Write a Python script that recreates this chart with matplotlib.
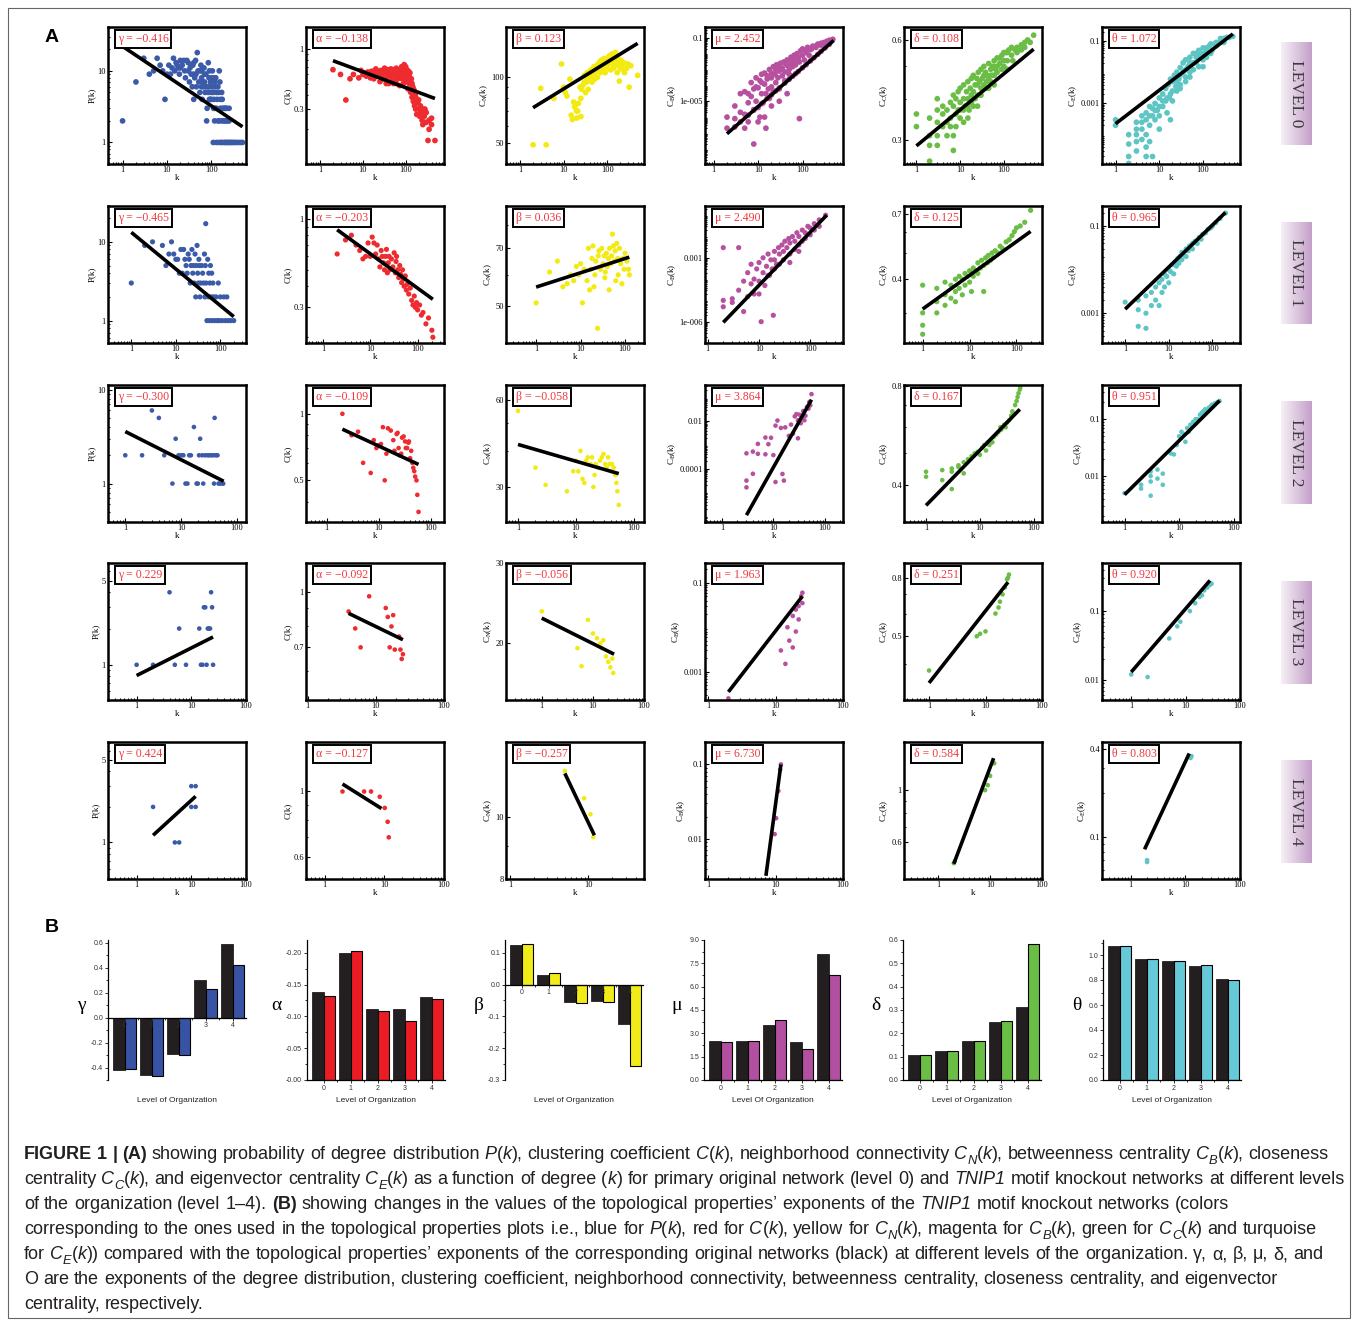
import numpy as np
import matplotlib
matplotlib.use("Agg")
import matplotlib.pyplot as plt
from matplotlib import font_manager
from matplotlib.colors import LinearSegmentedColormap
from matplotlib.patches import Rectangle
from matplotlib.ticker import (FixedLocator, FixedFormatter, LogLocator,
                               NullFormatter, MultipleLocator)

W, H = 1357, 1321
SERIF = 'Liberation Serif'
SANS = 'Liberation Sans'
plt.rcParams['font.family'] = SERIF
plt.rcParams['mathtext.default'] = 'regular'

# ---- panel A: (k, value) pairs per level ----
deg_pts = [
    [(1, 2), (2, 7), (3, 15), (4, 9), (5, 10), (6, 15), (7, 12), (8, 10), (9, 4), (10, 9), (11, 12), (12, 9),
     (13, 11), (14, 15), (15, 10), (16, 13), (17, 12), (18, 11), (19, 9), (20, 14), (22, 12), (24, 14), (25, 10),
     (26, 8), (28, 14), (30, 13), (32, 7), (33, 11), (35, 9), (37, 6), (38, 12), (40, 4), (42, 8), (44, 14),
     (46, 6), (48, 18), (50, 10), (52, 7), (55, 5), (58, 12), (60, 8), (62, 4), (65, 6), (68, 11), (70, 7),
     (72, 5), (75, 9), (78, 2), (80, 3), (82, 6), (85, 13), (88, 8), (90, 4), (95, 7), (100, 5), (105, 10),
     (110, 1), (112, 3), (115, 4), (118, 2), (120, 6), (125, 8), (130, 3), (135, 4), (140, 2), (145, 5),
     (150, 10), (155, 7), (160, 3), (165, 1), (170, 2), (175, 4), (180, 1), (190, 3), (200, 2), (210, 1),
     (220, 3), (230, 2), (240, 1), (250, 2), (260, 1), (280, 1), (300, 1), (330, 1), (360, 1), (400, 1),
     (450, 1), (500, 1), (130, 1), (150, 1), (200, 1), (230, 1), (150, 2), (190, 2), (210, 3), (250, 3),
     (100, 4), (120, 3), (60, 6), (90, 6), (120, 7), (45, 9), (70, 9), (100, 8), (30, 10), (60, 10), (20, 11),
     (40, 13), (35, 12), (40, 9), (55, 10), (65, 7), (75, 6), (85, 5), (95, 4), (105, 6), (110, 5), (130, 5),
     (160, 4), (180, 3), (200, 3), (220, 2), (170, 5), (140, 6), (115, 8), (90, 10)],
    [(1, 3), (2, 9), (3, 10), (5, 9), (6, 5), (7, 7), (8, 10), (9, 7), (10, 6), (11, 6), (12, 4), (13, 8),
     (14, 4), (15, 8), (16, 6), (17, 5), (18, 4), (19, 7), (20, 6), (21, 3), (22, 5), (23, 8), (24, 4), (25, 5),
     (26, 3), (27, 7), (28, 2), (29, 5), (30, 9), (31, 4), (32, 3), (33, 6), (34, 5), (35, 2), (36, 3), (38, 5),
     (40, 4), (42, 3), (44, 7), (45, 2), (46, 5), (47, 17), (48, 3), (50, 1), (52, 6), (54, 2), (55, 4),
     (57, 1), (58, 3), (60, 5), (62, 2), (64, 4), (66, 1), (68, 3), (70, 2), (75, 1), (80, 2), (85, 1),
     (90, 3), (95, 1), (100, 2), (110, 1), (120, 2), (130, 1), (140, 2), (150, 1), (170, 1), (200, 1)],
    [(1, 2), (2, 2), (3, 6), (4, 5), (5, 2), (7, 1), (8, 3), (9, 2), (10, 2), (11, 2), (12, 1), (13, 1),
     (14, 2), (15, 2), (17, 4), (19, 1), (20, 1), (21, 2), (22, 3), (24, 2), (25, 1), (27, 2), (30, 2),
     (32, 2), (35, 2), (38, 2), (39, 1), (40, 5), (42, 2), (45, 2), (47, 1), (50, 1), (55, 1), (57, 1)],
    [(1, 1), (2, 1), (4, 4), (5, 1), (6, 2), (8, 1), (14, 2), (15, 1), (16, 1), (17, 3), (18, 3), (19, 1),
     (20, 2), (21, 2), (22, 2), (23, 4), (24, 3), (25, 1)],
    [(2, 2), (5, 1), (6, 1), (10, 3), (12, 3), (10, 2), (12, 2)],
]

clu_pts = [
    [(2, 0.66), (3, 0.6), (4, 0.36), (5, 0.55), (6, 0.6), (8, 0.56), (9, 0.65), (10, 0.6), (11, 0.62),
     (12, 0.58), (13, 0.63), (14, 0.6), (15, 0.56), (16, 0.64), (17, 0.6), (18, 0.55), (19, 0.62), (20, 0.67),
     (22, 0.58), (24, 0.62), (25, 0.52), (26, 0.65), (28, 0.6), (30, 0.55), (32, 0.68), (34, 0.56), (35, 0.5),
     (36, 0.62), (38, 0.66), (40, 0.58), (42, 0.6), (44, 0.52), (45, 0.67), (48, 0.57), (50, 0.62), (52, 0.5),
     (55, 0.65), (58, 0.54), (60, 0.6), (62, 0.66), (65, 0.55), (68, 0.62), (70, 0.58), (72, 0.48),
     (75, 0.64), (78, 0.6), (80, 0.7), (82, 0.55), (85, 0.66), (88, 0.5), (90, 0.62), (92, 0.73), (95, 0.56),
     (98, 0.68), (100, 0.6), (105, 0.52), (110, 0.65), (112, 0.45), (115, 0.58), (120, 0.5), (125, 0.62),
     (130, 0.42), (135, 0.55), (140, 0.38), (145, 0.47), (150, 0.35), (155, 0.44), (160, 0.32), (165, 0.4),
     (170, 0.3), (175, 0.37), (180, 0.27), (190, 0.34), (200, 0.3), (210, 0.26), (220, 0.32), (230, 0.28),
     (240, 0.24), (250, 0.3), (270, 0.26), (300, 0.23), (330, 0.16), (350, 0.24), (400, 0.25), (480, 0.16),
     (30, 0.63), (40, 0.65), (50, 0.66), (60, 0.68), (70, 0.65), (80, 0.62), (85, 0.6), (90, 0.68), (95, 0.64),
     (100, 0.7), (105, 0.6), (110, 0.55), (115, 0.64), (120, 0.58), (130, 0.52), (140, 0.5), (150, 0.45),
     (160, 0.42), (170, 0.38), (180, 0.35), (200, 0.36), (220, 0.27), (250, 0.22), (280, 0.3), (300, 0.28),
     (350, 0.2), (400, 0.22), (40, 0.5), (60, 0.5), (25, 0.58)],
    [(2, 0.62), (3, 0.75), (4, 0.8), (5, 0.7), (6, 0.65), (7, 0.58), (8, 0.6), (9, 0.72), (10, 0.6),
     (11, 0.78), (12, 0.72), (13, 0.62), (14, 0.7), (15, 0.58), (16, 0.52), (17, 0.65), (18, 0.6), (19, 0.55),
     (20, 0.5), (21, 0.6), (22, 0.66), (23, 0.48), (24, 0.55), (25, 0.6), (26, 0.5), (28, 0.58), (30, 0.52),
     (32, 0.63), (34, 0.48), (35, 0.56), (36, 0.6), (38, 0.5), (40, 0.45), (42, 0.53), (44, 0.47), (46, 0.42),
     (48, 0.5), (50, 0.44), (52, 0.4), (55, 0.46), (58, 0.38), (60, 0.41), (65, 0.36), (70, 0.39), (75, 0.33),
     (80, 0.31), (85, 0.35), (90, 0.3), (95, 0.32), (100, 0.29), (110, 0.31), (120, 0.27), (130, 0.28),
     (150, 0.24), (170, 0.26), (200, 0.22), (210, 0.2)],
    [(2, 1.0), (3, 0.8), (4, 0.83), (5, 0.6), (7, 0.54), (8, 0.76), (9, 0.7), (10, 0.72), (11, 0.73),
     (12, 0.87), (13, 0.5), (14, 0.66), (15, 0.86), (17, 0.84), (19, 0.76), (20, 0.68), (22, 0.81), (23, 0.82),
     (24, 0.7), (25, 0.65), (27, 0.66), (28, 0.78), (30, 0.79), (32, 0.75), (33, 0.7), (35, 0.7), (37, 0.74),
     (38, 0.75), (40, 0.63), (42, 0.68), (44, 0.6), (46, 0.57), (48, 0.55), (50, 0.52), (53, 0.5), (55, 0.43),
     (58, 0.36)],
    [(4, 0.88), (5, 0.79), (6, 0.7), (8, 0.97), (14, 0.9), (15, 0.85), (16, 0.7), (17, 0.8), (18, 0.86),
     (19, 0.69), (22, 0.75), (23, 0.69), (24, 0.65), (25, 0.67)],
    [(2, 1.0), (4.6, 1.0), (6, 1.0), (8.4, 0.96), (10.2, 0.88), (11.4, 0.79), (11.9, 0.70)],
]

nbr_pts = [
    [(2, 49), (4, 49), (3, 89), (6, 80), (9, 115), (10, 90), (11, 85), (12, 82), (14, 98), (15, 67), (16, 64),
     (17, 77), (18, 73), (19, 75), (20, 65), (21, 70), (22, 76), (24, 90), (25, 66), (26, 88), (28, 92),
     (30, 102), (32, 85), (34, 95), (35, 105), (37, 88), (40, 100), (42, 108), (45, 95), (48, 110), (50, 104),
     (52, 98), (55, 112), (58, 107), (60, 100), (62, 115), (65, 110), (68, 118), (70, 105), (72, 112),
     (75, 120), (78, 108), (80, 115), (85, 122), (88, 112), (90, 118), (95, 110), (100, 120), (105, 115),
     (110, 125), (115, 118), (120, 108), (125, 122), (130, 128), (135, 115), (140, 120), (145, 126),
     (150, 112), (155, 130), (160, 118), (165, 124), (170, 105), (175, 120), (180, 115), (190, 96), (200, 120),
     (210, 112), (220, 118), (230, 108), (250, 116), (280, 110), (320, 90), (350, 113), (500, 102),
     (60, 110), (80, 120), (100, 112), (120, 125), (140, 110), (160, 124), (180, 120), (200, 110), (250, 105),
     (300, 115), (150, 127), (130, 115), (110, 118), (90, 105), (70, 115), (50, 112), (45, 102), (35, 98),
     (30, 95), (25, 80), (20, 70)],
    [(1, 51), (2, 61), (3, 65), (4, 56), (5, 57), (6, 60), (7, 58), (8, 63), (9, 60), (10, 64), (11, 51),
     (12, 62), (14, 58), (15, 70), (16, 55), (17, 62), (18, 66), (19, 71), (20, 56), (21, 60), (22, 65),
     (24, 44), (25, 67), (26, 69), (28, 62), (30, 70), (32, 64), (34, 67), (35, 59), (36, 61), (38, 68),
     (40, 63), (42, 66), (44, 55), (45, 70), (48, 64), (50, 67), (52, 76), (55, 71), (58, 65), (60, 69),
     (62, 58), (65, 72), (68, 66), (70, 60), (75, 70), (80, 64), (85, 57), (90, 66), (95, 62), (100, 68),
     (110, 65), (120, 62), (125, 60)],
    [(1, 55), (2, 35), (3, 30.5), (7, 29), (9, 34), (10, 37), (11, 34), (12, 40), (13, 32), (14, 31), (15, 37),
     (16, 38), (18, 36), (19, 38), (20, 30), (21, 33), (22, 36), (24, 35), (26, 37), (28, 38), (30, 39),
     (32, 36), (34, 35), (36, 38), (38, 36), (40, 34), (42, 36), (45, 35), (48, 33), (50, 31), (52, 29),
     (55, 26)],
    [(1, 23.5), (5, 19.5), (6, 17.8), (8, 22.5), (10, 21), (12, 20.5), (14, 20), (15, 19.5), (16, 20.3),
     (18, 18.7), (20, 18.2), (22, 17.7), (24, 18.5), (25, 17.2)],
    [(5, 11.8), (8.8, 10.7), (10.6, 10.1), (11.5, 9.3)],
]

btw_pts = [
    [(2, 1e-6), (2, 2e-7), (3, 5e-6), (3, 8e-7), (4, 3e-5), (4, 2e-6), (5, 1.5e-6), (5, 4e-5), (6, 5e-7),
     (6, 8e-6), (7, 2e-5), (7, 1.5e-4), (8, 3e-6), (8, 6e-5), (8, 2e-8), (9, 1e-5), (9, 3e-4), (10, 4e-6),
     (10, 7e-5), (11, 2e-4), (11, 1e-6), (12, 3e-5), (12, 5e-4), (13, 8e-6), (14, 1.2e-4), (14, 6e-4),
     (15, 3e-5), (15, 2e-7), (16, 2.5e-4), (17, 6e-5), (18, 1e-3), (18, 1.5e-5), (20, 3e-4), (20, 8e-5),
     (22, 1.5e-3), (22, 4e-5), (24, 5e-4), (25, 1.5e-4), (26, 2e-3), (28, 3e-4), (30, 8e-4), (30, 6e-5),
     (32, 2.5e-3), (35, 4e-4), (35, 1.2e-3), (38, 3e-3), (40, 7e-4), (40, 2e-4), (45, 1.8e-3), (45, 4e-3),
     (50, 1e-3), (50, 5e-4), (55, 6e-3), (55, 2.5e-3), (60, 1.5e-3), (65, 8e-3), (65, 3.5e-3), (70, 2e-3),
     (75, 1e-2), (80, 5e-3), (85, 8e-7), (85, 3e-3), (90, 1.5e-2), (100, 8e-3), (100, 2e-2), (110, 4e-3),
     (120, 1.2e-2), (130, 2.5e-2), (140, 8e-3), (150, 1.8e-2), (170, 3e-2), (200, 2.5e-2), (220, 4e-2),
     (250, 3.5e-2), (300, 5e-2), (350, 6e-2), (400, 7e-2), (480, 8e-2),
     (3, 2.4e-7), (4, 5e-7), (6, 1.3e-6), (8, 2.7e-6), (12, 7e-6), (16, 1.5e-5), (20, 2.5e-5), (25, 4.5e-5),
     (30, 7e-5), (40, 1.4e-4), (50, 2.4e-4), (60, 3.8e-4), (70, 5.5e-4), (80, 7.5e-4), (100, 1.3e-3),
     (120, 2e-3), (150, 3.5e-3), (180, 5.5e-3), (220, 9e-3), (260, 1.4e-2), (320, 2.3e-2), (400, 3.9e-2),
     (6, 3e-5), (9, 8e-5), (12, 1.5e-4), (16, 4e-4), (20, 6e-4), (25, 1e-3), (30, 1.5e-3), (40, 2.5e-3),
     (60, 4e-3), (80, 6e-3), (120, 1.6e-2), (160, 2e-2), (200, 3e-2), (260, 4.5e-2), (300, 3e-2), (380, 5e-2),
     (450, 7e-2), (5, 2e-7), (10, 5e-7), (14, 1e-6), (20, 5e-6), (30, 1e-5), (45, 3e-5)],
    [(2, 3e-3), (2, 5e-6), (2, 1e-5), (3, 8e-6), (3, 1.2e-5), (4, 3e-3), (4, 3e-5), (5, 8e-5), (5, 3e-6),
     (6, 2e-4), (6, 1.5e-5), (7, 5e-4), (7, 6e-5), (8, 1e-4), (8, 2e-5), (9, 3e-4), (10, 8e-5), (10, 6e-4),
     (11, 1e-6), (12, 2e-4), (12, 1e-3), (13, 5e-5), (14, 4e-4), (15, 1.5e-3), (16, 1.5e-4), (17, 8e-4),
     (18, 3e-4), (19, 2e-6), (20, 2e-3), (20, 8e-4), (22, 5e-4), (24, 3e-3), (25, 1.5e-3), (28, 4e-3),
     (30, 2e-3), (32, 6e-3), (35, 3e-3), (38, 8e-3), (40, 5e-3), (45, 1e-2), (50, 6e-3), (55, 1.5e-2),
     (60, 1e-2), (70, 2e-2), (80, 1.5e-2), (90, 3e-2), (100, 2.5e-2), (120, 4e-2), (150, 6e-2), (200, 0.1),
     (30, 8e-4), (40, 1.5e-3), (50, 2.5e-3), (60, 4e-3), (70, 6e-3), (80, 8e-3), (100, 1.2e-2), (120, 2e-2),
     (150, 3e-2), (40, 6e-4), (60, 2e-3), (25, 5e-4), (20, 3e-4), (15, 1.5e-4), (10, 2e-5)],
    [(3, 3.1e-5), (3, 1.6e-5), (3, 4.4e-4), (4, 5.2e-4), (4, 6e-5), (5, 1.1e-3), (5, 4.2e-4), (7, 2.05e-3),
     (7, 4e-4), (8, 1.07e-3), (9, 2e-3), (10, 3.7e-4), (11, 6.5e-3), (11, 2.7e-5), (12, 1.07e-2), (14, 5.2e-3),
     (15, 5.9e-5), (16, 3.1e-5), (17, 5.5e-3), (20, 2.4e-3), (22, 7.2e-3), (24, 3e-3), (26, 1.6e-2),
     (28, 2e-2), (30, 1.1e-2), (30, 1.9e-3), (32, 1.9e-2), (34, 8.2e-3), (36, 1.5e-2), (38, 2.7e-2),
     (40, 1.1e-2), (42, 1.7e-2), (45, 4e-2), (48, 3.4e-2), (50, 6.5e-2), (52, 4.7e-2), (55, 1.4e-1)],
    [(2, 2.5e-4), (5, 2e-4), (12, 3e-3), (14, 1.5e-3), (15, 1e-2), (16, 5e-3), (18, 3.5e-3), (18, 1.8e-2),
     (20, 2.5e-2), (20, 8e-3), (22, 3e-2), (22, 1.5e-2), (24, 5e-2), (25, 6e-2), (25, 3.5e-2)],
    [(9.7, 0.0116), (10.2, 0.019), (11, 0.044), (11.7, 0.085), (12, 0.1)],
]

clo_pts = [
    [(1, 0.36), (1, 0.33), (2, 0.35), (2, 0.29), (2, 0.26), (3, 0.4), (3, 0.37), (3, 0.34), (3, 0.29),
     (4, 0.38), (4, 0.36), (5, 0.37), (5, 0.34), (6, 0.39), (6, 0.35), (7, 0.41), (7, 0.38), (7, 0.28),
     (8, 0.4), (8, 0.33), (9, 0.42), (9, 0.37), (10, 0.43), (10, 0.39), (10, 0.35), (12, 0.44), (12, 0.4),
     (13, 0.38), (14, 0.42), (15, 0.45), (15, 0.4), (16, 0.37), (17, 0.43), (18, 0.46), (18, 0.41), (20, 0.47),
     (20, 0.42), (20, 0.38), (22, 0.44), (24, 0.46), (25, 0.41), (26, 0.48), (28, 0.45), (30, 0.49),
     (30, 0.43), (32, 0.46), (35, 0.5), (35, 0.44), (38, 0.48), (40, 0.47), (40, 0.43), (45, 0.51), (45, 0.46),
     (50, 0.49), (50, 0.45), (55, 0.5), (60, 0.52), (60, 0.47), (65, 0.49), (70, 0.53), (70, 0.48), (80, 0.51),
     (90, 0.54), (90, 0.49), (100, 0.52), (110, 0.55), (120, 0.52), (130, 0.56), (150, 0.54), (180, 0.56),
     (200, 0.55), (250, 0.58), (300, 0.57), (350, 0.6), (400, 0.59), (480, 0.62),
     (2, 0.31), (3, 0.31), (4, 0.33), (5, 0.31), (6, 0.33), (8, 0.36), (10, 0.37), (12, 0.37), (15, 0.38),
     (18, 0.39), (22, 0.4), (25, 0.44), (30, 0.41), (35, 0.47), (40, 0.45), (50, 0.47), (55, 0.47), (60, 0.5),
     (70, 0.5), (80, 0.53), (100, 0.5), (100, 0.55), (120, 0.55), (150, 0.57), (200, 0.57), (250, 0.56),
     (300, 0.59), (120, 0.49), (160, 0.52), (60, 0.44), (45, 0.43), (25, 0.38), (12, 0.34), (15, 0.35),
     (7, 0.31)],
    [(1, 0.38), (1, 0.3), (1, 0.27), (1, 0.25), (2, 0.37), (2, 0.33), (2, 0.3), (3, 0.39), (3, 0.35),
     (3, 0.32), (4, 0.38), (4, 0.34), (5, 0.4), (5, 0.36), (5, 0.33), (6, 0.41), (6, 0.37), (7, 0.4), (7, 0.35),
     (8, 0.42), (8, 0.38), (9, 0.41), (10, 0.43), (10, 0.39), (11, 0.36), (12, 0.44), (12, 0.41), (14, 0.43),
     (15, 0.46), (15, 0.42), (17, 0.44), (18, 0.47), (20, 0.45), (20, 0.36), (22, 0.48), (24, 0.46),
     (25, 0.49), (28, 0.47), (30, 0.5), (32, 0.48), (35, 0.51), (40, 0.5), (45, 0.53), (50, 0.52), (60, 0.55),
     (70, 0.56), (80, 0.58), (90, 0.6), (100, 0.62), (120, 0.63), (150, 0.65), (200, 0.72)],
    [(1, 0.44), (1, 0.425), (2, 0.445), (2, 0.415), (3, 0.45), (3, 0.44), (3, 0.39), (4, 0.46), (4, 0.455),
     (5, 0.47), (5, 0.435), (6, 0.48), (7, 0.49), (8, 0.5), (9, 0.505), (10, 0.495), (11, 0.52), (12, 0.53),
     (13, 0.51), (14, 0.54), (15, 0.53), (16, 0.55), (17, 0.54), (18, 0.56), (20, 0.57), (22, 0.58),
     (24, 0.6), (25, 0.59), (28, 0.61), (30, 0.6), (32, 0.62), (35, 0.63), (38, 0.65), (40, 0.67), (42, 0.66),
     (45, 0.7), (48, 0.72), (50, 0.74), (52, 0.76), (55, 0.78), (56, 0.79)],
    [(1, 0.38), (7, 0.5), (8, 0.51), (10, 0.52), (15, 0.6), (17, 0.63), (18, 0.66), (20, 0.7), (22, 0.74),
     (24, 0.79), (25, 0.8), (26, 0.82)],
    [(2, 0.49), (2.1, 0.5), (8, 1.0), (9, 1.05), (10, 1.15), (12, 1.3)],
]

eig_pts = [
    [(1, 3e-4), (1, 2e-4), (2, 1e-4), (2, 5e-5), (2, 2e-5), (2, 1.2e-5), (3, 2.5e-4), (3, 1e-4), (3, 6e-5),
     (3, 3e-5), (4, 4e-4), (4, 1.5e-4), (4, 7e-5), (5, 1e-4), (5, 5e-4), (5, 4e-5), (6, 8e-4), (6, 2e-4),
     (6, 6e-5), (7, 4e-4), (7, 2e-5), (8, 1e-3), (8, 3e-4), (9, 6e-4), (10, 1.5e-3), (10, 4e-4), (10, 1.5e-4),
     (12, 2e-3), (12, 8e-4), (14, 1.2e-3), (14, 3e-3), (15, 5e-4), (16, 4e-3), (17, 1.5e-3), (18, 3e-4),
     (18, 6e-3), (20, 2.5e-3), (20, 5e-3), (22, 8e-3), (24, 3.5e-3), (25, 1e-2), (28, 6e-3), (30, 1.4e-2),
     (30, 4e-3), (35, 1e-2), (35, 2e-2), (40, 7e-3), (40, 2.5e-2), (45, 1.5e-2), (50, 3e-2), (50, 1e-2),
     (60, 2e-2), (60, 4e-2), (70, 3e-2), (80, 5e-2), (80, 1.5e-2), (90, 3.5e-2), (100, 6e-2), (100, 2.5e-2),
     (120, 4.5e-2), (140, 7e-2), (160, 5e-2), (180, 8e-2), (200, 9e-2), (250, 0.1), (300, 0.12), (400, 0.13),
     (480, 0.14),
     (8, 6e-4), (10, 8e-4), (12, 1.2e-3), (15, 1.5e-3), (18, 2e-3), (20, 1.2e-3), (25, 5e-3), (25, 2.5e-3),
     (30, 8e-3), (30, 3e-3), (40, 1.2e-2), (40, 5e-3), (50, 2e-2), (50, 7e-3), (60, 1.2e-2), (70, 4e-2),
     (70, 2e-2), (80, 3e-2), (100, 4e-2), (100, 1.5e-2), (120, 6e-2), (120, 3e-2), (150, 8e-2), (150, 4e-2),
     (200, 7e-2), (250, 0.12), (300, 0.09), (350, 0.13), (3, 1.5e-4), (4, 2.5e-4), (5, 3e-4), (6, 4e-4),
     (7, 7e-4), (5, 2e-5)],
    [(1, 1.8e-3), (2, 5e-4), (2, 1.2e-3), (2, 2e-3), (3, 4.5e-4), (3, 1e-3), (3, 2.5e-3), (4, 1.5e-3),
     (4, 3e-3), (5, 2e-3), (5, 4e-3), (6, 1.5e-3), (6, 5e-3), (7, 3e-3), (7, 6e-3), (8, 4e-3), (8, 8e-3),
     (9, 7e-3), (10, 5e-3), (10, 1e-2), (11, 9e-3), (12, 1.3e-2), (13, 8e-3), (14, 1.5e-2), (15, 1.2e-2),
     (16, 1.8e-2), (17, 1.4e-2), (18, 2e-2), (20, 1.7e-2), (20, 2.5e-2), (22, 2.2e-2), (25, 3e-2), (25, 2e-2),
     (28, 2.7e-2), (30, 3.5e-2), (35, 3e-2), (35, 4e-2), (40, 4.5e-2), (45, 4e-2), (50, 5.5e-2), (55, 5e-2),
     (60, 6.5e-2), (70, 7e-2), (80, 8.5e-2), (90, 9e-2), (100, 0.1), (120, 0.12), (150, 0.15), (200, 0.2)],
    [(1, 5e-3), (2, 7e-3), (2, 6e-3), (3, 1.2e-2), (3, 1e-2), (3, 8e-3), (3, 4.5e-3), (4, 1.3e-2), (4, 9e-3),
     (5, 1.1e-2), (5, 7e-3), (7, 2.5e-2), (8, 2.4e-2), (9, 3.5e-2), (10, 5e-2), (11, 6e-2), (12, 5.5e-2),
     (13, 4e-2), (14, 7e-2), (15, 6e-2), (16, 8e-2), (18, 9e-2), (20, 0.1), (22, 0.1), (24, 0.12), (26, 0.13),
     (28, 0.14), (30, 0.15), (32, 0.14), (35, 0.16), (38, 0.17), (40, 0.18), (45, 0.19), (50, 0.2), (55, 0.21)],
    [(1, 0.012), (2, 0.011), (5, 0.04), (7, 0.06), (8, 0.07), (12, 0.1), (15, 0.13), (18, 0.16), (20, 0.17),
     (22, 0.2), (25, 0.22), (28, 0.24), (30, 0.25)],
    [(2, 0.07), (2, 0.068), (12.5, 0.35), (13, 0.36)],
]

# fitted exponents shown in the boxes (level 0..4)
gamma_vals = [-0.416, -0.465, -0.300, 0.229, 0.424]
alpha_vals = [-0.138, -0.203, -0.109, -0.092, -0.127]
beta_vals = [0.123, 0.036, -0.058, -0.056, -0.257]
mu_vals = [2.452, 2.490, 3.864, 1.963, 6.730]
delta_vals = [0.108, 0.125, 0.167, 0.251, 0.584]
theta_vals = [1.072, 0.965, 0.951, 0.920, 0.803]

# fit line start point (k0, y0) and end k, per property per level
deg_fit = [(1, 22, 500), (1, 13.2, 200), (1, 3.58, 58), (1, 0.814, 25), (2, 1.15, 12)]
clu_fit = [(2, 0.79, 480), (2, 0.862, 210), (2, 0.852, 58), (4, 0.87, 25), (2, 1.06, 9)]
nbr_fit = [(2, 72.5, 500), (1, 55.9, 125), (1, 42.1, 55), (1, 22.7, 26), (5, 11.7, 11.9)]
btw_fit = [(2, 8.9e-8, 500), (2, 9.3e-7, 210), (3, 1.07e-6, 55), (2, 3.5e-4, 25), (7.2, 3.2e-3, 12)]
clo_fit = [(1, 0.289, 480), (1, 0.31, 200), (1, 0.348, 55), (1, 0.344, 25), (2, 0.487, 11.7)]
eig_fit = [(1, 2.24e-4, 480), (1, 1.24e-3, 200), (1, 4.7e-3, 55), (1, 0.013, 28), (1.8, 0.083, 11.8)]

# axis ranges and y ticks per [level][property]
x_lims = [
    [(0.47, 600), (0.47, 780), (0.48, 700), (0.64, 813), (0.52, 745), (0.49, 700)],
    [(0.3, 377), (0.44, 361), (0.21, 267), (0.88, 437), (0.40, 350), (0.295, 430)],
    [(0.49, 146), (0.40, 179), (0.62, 150), (0.47, 225), (0.39, 142), (0.385, 130)],
    [(0.3, 100), (0.95, 100), (0.2, 100), (0.9, 100), (0.36, 100), (0.29, 100)],
    [(0.3, 100), (0.49, 100), (0.89, 51), (0.9, 100), (0.22, 100), (0.3, 100)],
]
y_lims = [
    [(0.5, 41), (0.1, 1.55), (40, 170), (1.1e-9, 0.48), (0.255, 0.656), (1.15e-5, 0.28)],
    [(0.52, 28.5), (0.185, 1.19), (40.4, 89.5), (1e-7, 0.27), (0.232, 0.747), (2.07e-4, 0.29)],
    [(0.39, 11.2), (0.324, 1.35), (22.7, 67.6), (5.5e-7, 0.34), (0.31, 0.805), (1.55e-3, 0.4)],
    [(0.51, 7.0), (0.5, 1.2), (15, 30), (2.3e-4, 0.28), (0.30, 0.9), (5.1e-3, 0.5)],
    [(0.49, 7.1), (0.506, 1.47), (8, 13.1), (2.9e-3, 0.2), (0.42, 1.6), (0.052, 0.45)],
]
y_ticks = [
    [([1, 10], ['1', '10']), ([0.3, 1], ['0.3', '1']), ([50, 100], ['50', '100']),
     ([1e-5, 0.1], ['1e-005', '0.1']), ([0.3, 0.6], ['0.3', '0.6']), ([0.001, 0.1], ['0.001', '0.1'])],
    [([1, 10], ['1', '10']), ([0.3, 1], ['0.3', '1']), ([50, 70], ['50', '70']),
     ([1e-6, 0.001], ['1e-006', '0.001']), ([0.4, 0.7], ['0.4', '0.7']), ([0.001, 0.1], ['0.001', '0.1'])],
    [([1, 10], ['1', '10']), ([0.5, 1], ['0.5', '1']), ([30, 60], ['30', '60']),
     ([1e-4, 0.01], ['0.0001', '0.01']), ([0.4, 0.8], ['0.4', '0.8']), ([0.01, 0.1], ['0.01', '0.1'])],
    [([1, 5], ['1', '5']), ([0.7, 1], ['0.7', '1']), ([20, 30], ['20', '30']),
     ([0.001, 0.1], ['0.001', '0.1']), ([0.5, 0.8], ['0.5', '0.8']), ([0.01, 0.1], ['0.01', '0.1'])],
    [([1, 5], ['1', '5']), ([0.6, 1], ['0.6', '1']), ([8, 10], ['8', '10']),
     ([0.01, 0.1], ['0.01', '0.1']), ([0.6, 1], ['0.6', '1']), ([0.1, 0.4], ['0.1', '0.4'])],
]

prop_pts = [deg_pts, clu_pts, nbr_pts, btw_pts, clo_pts, eig_pts]
prop_fit = [deg_fit, clu_fit, nbr_fit, btw_fit, clo_fit, eig_fit]
prop_exp = [gamma_vals, alpha_vals, beta_vals, mu_vals, delta_vals, theta_vals]
greek = ['γ', 'α', 'β', 'μ', 'δ', 'θ']
y_names = ['P(k)', 'C(k)', r'C$_{N}$(k)', r'C$_{B}$(k)', r'C$_{C}$(k)', r'C$_{E}$(k)']
level_names = ['LEVEL 0', 'LEVEL 1', 'LEVEL 2', 'LEVEL 3', 'LEVEL 4']
pt_colors = ['#3b5ba9', '#ee2b2f', '#f3ea12', '#b6509f', '#6bbd46', '#5ec5c5']

# ---- panel B: exponents of the original (black) and knockout networks ----
levels = [0, 1, 2, 3, 4]
orig_gamma = [-0.418, -0.462, -0.292, 0.300, 0.585]
ko_gamma = [-0.408, -0.465, -0.300, 0.229, 0.424]
orig_alpha = [-0.139, -0.199, -0.111, -0.111, -0.131]
ko_alpha = [-0.132, -0.203, -0.109, -0.092, -0.127]
orig_beta = [0.124, 0.029, -0.055, -0.052, -0.125]
ko_beta = [0.129, 0.036, -0.058, -0.056, -0.257]
orig_mu = [2.48, 2.52, 3.56, 2.43, 8.1]
ko_mu = [2.452, 2.490, 3.864, 1.963, 6.730]
orig_delta = [0.108, 0.125, 0.167, 0.250, 0.313]
ko_delta = [0.108, 0.125, 0.167, 0.251, 0.584]
orig_theta = [1.073, 0.965, 0.951, 0.915, 0.805]
ko_theta = [1.072, 0.965, 0.951, 0.920, 0.803]
bar_colors = ['#3853a4', '#ec1c24', '#f2eb1a', '#b34fa0', '#6abd45', '#66c9d8']
x_titles = ['Level of Organization'] * 3 + ['Level Of Organization'] + ['Level of Organization'] * 2

caption = [
    "^FIGURE 1 | (A)^ showing probability of degree distribution *P*(*k*), clustering coefficient *C*(*k*), "
    "neighborhood connectivity *C*_N(*k*), betweenness centrality *C*_B(*k*), closeness",
    "centrality *C*_C(*k*), and eigenvector centrality *C*_E(*k*) as a function of degree (*k*) for primary "
    "original network (level 0) and *TNIP1* motif knockout networks at different levels",
    "of the organization (level 1–4). ^(B)^ showing changes in the values of the topological properties’ "
    "exponents of the *TNIP1* motif knockout networks (colors",
    "corresponding to the ones used in the topological properties plots i.e., blue for *P*(*k*), red for "
    "*C*(*k*), yellow for *C*_N(*k*), magenta for *C*_B(*k*), green for *C*_C(*k*) and turquoise",
    "for *C*_E(*k*)) compared with the topological properties’ exponents of the corresponding original "
    "networks (black) at different levels of the organization. γ, α, β, μ, δ, and",
    "O are the exponents of the degree distribution, clustering coefficient, neighborhood connectivity, "
    "betweenness centrality, closeness centrality, and eigenvector",
    "centrality, respectively.",
]

fig = plt.figure(figsize=(W / 100, H / 100), dpi=100)


def px_axes(left, top, width, height):
    return fig.add_axes([left / W, 1 - (top + height) / H, width / W, height / H])


def fmt_exp(v):
    s = f"{abs(v):.3f}"
    return ('\u2212' + s) if v < 0 else s


col_left = [108, 306, 506, 705, 904, 1102]
row_top = [27, 206, 385, 563, 742]
dot_size = [17, 14, 11, 11, 11]

for r in range(5):
    for c in range(6):
        ax = px_axes(col_left[c], row_top[r], 138, 137)
        ax.set_xscale('log')
        ax.set_yscale('log')
        pts = np.array(prop_pts[c][r], dtype=float)
        ax.scatter(pts[:, 0], pts[:, 1], s=dot_size[r], color=pt_colors[c],
                   edgecolors='none', zorder=2)
        k0, y0, k1 = prop_fit[c][r]
        slope = prop_exp[c][r]
        ax.plot([k0, k1], [y0, y0 * (k1 / k0) ** slope], color='black', lw=2.6,
                solid_capstyle='butt', zorder=3)
        ax.set_xlim(*x_lims[r][c])
        ax.set_ylim(*y_lims[r][c])
        xt = [t for t in (1, 10, 100) if x_lims[r][c][0] * 0.99 <= t <= x_lims[r][c][1] * 1.01]
        ax.xaxis.set_major_locator(FixedLocator(xt))
        ax.xaxis.set_major_formatter(FixedFormatter([str(t) for t in xt]))
        yt, yl = y_ticks[r][c]
        ax.yaxis.set_major_locator(FixedLocator(yt))
        ax.yaxis.set_major_formatter(FixedFormatter(yl))
        for axis in (ax.xaxis, ax.yaxis):
            axis.set_minor_locator(LogLocator(base=10, subs=np.arange(2, 10), numticks=30))
            axis.set_minor_formatter(NullFormatter())
        ax.tick_params(which='both', direction='in', top=False, right=False,
                       labelsize=6, pad=1.5, width=0.8)
        ax.tick_params(which='major', length=3)
        ax.tick_params(which='minor', length=1.5)
        for sp in ax.spines.values():
            sp.set_linewidth(1.8)
        ax.set_xlabel('k', fontsize=6.5, labelpad=0)
        ax.set_ylabel(y_names[c], fontsize=6.5, labelpad=1)
        ax.text(0.07, 0.955, f"{greek[c]} = {fmt_exp(slope)}", transform=ax.transAxes,
                ha='left', va='top', fontsize=8.5, color='#f2373d', zorder=5,
                bbox=dict(boxstyle='square,pad=0.25', fc='white', ec='black', lw=1.4))

# level tags on the right
tag_cmap = LinearSegmentedColormap.from_list('tag', ['#f6f0f6', '#c4a0c9'])
for r in range(5):
    center = 93 + 179.5 * r
    tax = px_axes(1281, center - 51, 31, 103)
    tax.imshow(np.linspace(0, 1, 64)[None, :], cmap=tag_cmap, aspect='auto', extent=(0, 1, 0, 1))
    tax.set_axis_off()
    tax.text(0.5, 0.5, level_names[r], rotation=-90, ha='center', va='center',
             fontsize=12.5, color='#3a3a3a', transform=tax.transAxes)

fig.text(52 / W, 1 - 38 / H, 'A', fontsize=14, weight='bold', family=SANS, va='center', ha='center')
fig.text(52 / W, 1 - 928 / H, 'B', fontsize=14, weight='bold', family=SANS, va='center', ha='center')

# bar charts
bar_left = [108, 307, 505, 704, 903, 1103]
bar_orig = [orig_gamma, orig_alpha, orig_beta, orig_mu, orig_delta, orig_theta]
bar_ko = [ko_gamma, ko_alpha, ko_beta, ko_mu, ko_delta, ko_theta]
bar_ylims = [(-0.5, 0.62), (0.0, -0.22), (-0.3, 0.14), (0.0, 9.0), (0.0, 0.6), (0.0, 1.12)]
bar_major = [0.2, 0.05, 0.1, 1.5, 0.1, 0.2]
bar_fmt = ['{:.1f}', '{:.2f}', '{:.1f}', '{:.1f}', '{:.1f}', '{:.1f}']
greek_x = [-0.19, -0.22, -0.19, -0.2, -0.2, -0.19]

xs = np.array(levels)
for i in range(6):
    ax = px_axes(bar_left[i], 940, 138, 140)
    ax.bar(xs - 0.21, bar_orig[i], 0.42, color='#231f20', edgecolor='#231f20', lw=0.6)
    ax.bar(xs + 0.21, bar_ko[i], 0.42, color=bar_colors[i], edgecolor='black', lw=0.8)
    ax.set_xlim(-0.62, 4.5)
    ax.set_ylim(*bar_ylims[i])
    ax.spines['top'].set_visible(False)
    ax.spines['right'].set_visible(False)
    for sp in ('left', 'bottom'):
        ax.spines[sp].set_linewidth(0.9)
    if min(bar_ylims[i]) < 0 < max(bar_ylims[i]):
        ax.spines['bottom'].set_position(('data', 0))
    ax.set_xticks(xs)
    ax.set_xticklabels([str(v) for v in levels])
    ax.xaxis.set_minor_locator(FixedLocator(xs[:-1] + 0.5))
    step = bar_major[i]
    lo, hi = sorted(bar_ylims[i])
    ticks = np.arange(np.ceil(lo / step - 1e-6) * step, hi + 1e-9, step)
    ax.set_yticks(ticks)
    ax.set_yticklabels([bar_fmt[i].format(t + 0.0) for t in ticks])
    ax.yaxis.set_minor_locator(MultipleLocator(step / 2))
    ax.tick_params(which='both', direction='out', labelsize=5, pad=1, colors='#333333',
                   labelfontfamily=SANS, width=0.7)
    ax.tick_params(which='major', length=2.5)
    ax.tick_params(which='minor', length=1.5)
    ax.text(greek_x[i], 0.53, greek[i], transform=ax.transAxes, ha='center', va='center',
            fontsize=14, family=SERIF)
    ax.text(0.5, -0.145, x_titles[i], transform=ax.transAxes, ha='center', va='center',
            fontsize=6, family=SANS, color='#222222')


# caption with inline bold / italic / subscript runs
def parse_markup(src):
    runs = []
    state = {'it': False, 'bd': False, 'buf': ''}

    def flush():
        if state['buf']:
            runs.append((state['buf'], state['it'], state['bd'], False))
            state['buf'] = ''

    i = 0
    while i < len(src):
        ch = src[i]
        if ch == '*':
            flush()
            state['it'] = not state['it']
        elif ch == '^':
            flush()
            state['bd'] = not state['bd']
        elif ch == '_':
            flush()
            runs.append((src[i + 1], True, state['bd'], True))
            i += 1
        elif ch == ' ':
            flush()
            runs.append(None)
        else:
            state['buf'] += ch
        i += 1
    flush()
    return runs


try:
    font_manager.findfont('Liberation Sans Narrow', fallback_to_default=False)
    CAP_FONT = 'Liberation Sans Narrow'
except ValueError:
    CAP_FONT = SANS

renderer = fig.canvas.get_renderer()


def make_run(x, y, txt, size, it, bd, sub):
    return fig.text(x, y, txt, fontsize=size * (0.72 if sub else 1.0), family=CAP_FONT,
                    style='italic' if it else 'normal', weight='bold' if bd else 'normal',
                    transform=None, va='baseline', ha='left', color='#231f20')


def measure(txt, size, it=False, bd=False, sub=False):
    t = make_run(0, 0, txt, size, it, bd, sub)
    w = t.get_window_extent(renderer).width
    t.remove()
    return w


def natural_width(runs, size):
    sw = measure('a a', size) - measure('aa', size)
    total = 0.0
    for run in runs:
        total += sw if run is None else measure(run[0], size, run[1], run[2], run[3])
    return total


cap_x0 = 24
parsed = [parse_markup(s) for s in caption]
base = 10.0
cap_size = base * 1307 / natural_width(parsed[0], base)

for li, runs in enumerate(parsed):
    ybase = H - (1159 + 25 * li)
    sw = measure('a a', cap_size) - measure('aa', cap_size)
    x = cap_x0
    for run in runs:
        if run is None:
            x += sw
            continue
        dy = -0.3 * cap_size * 100 / 72 if run[3] else 0
        t = make_run(x, ybase + dy, run[0], cap_size, run[1], run[2], run[3])
        x += t.get_window_extent(renderer).width

fig.patches.append(Rectangle((8 / W, 3 / H), 1342 / W, 1310 / H, transform=fig.transFigure,
                             fill=False, ec='#666666', lw=0.8))

fig.savefig('out.png', dpi=100)
